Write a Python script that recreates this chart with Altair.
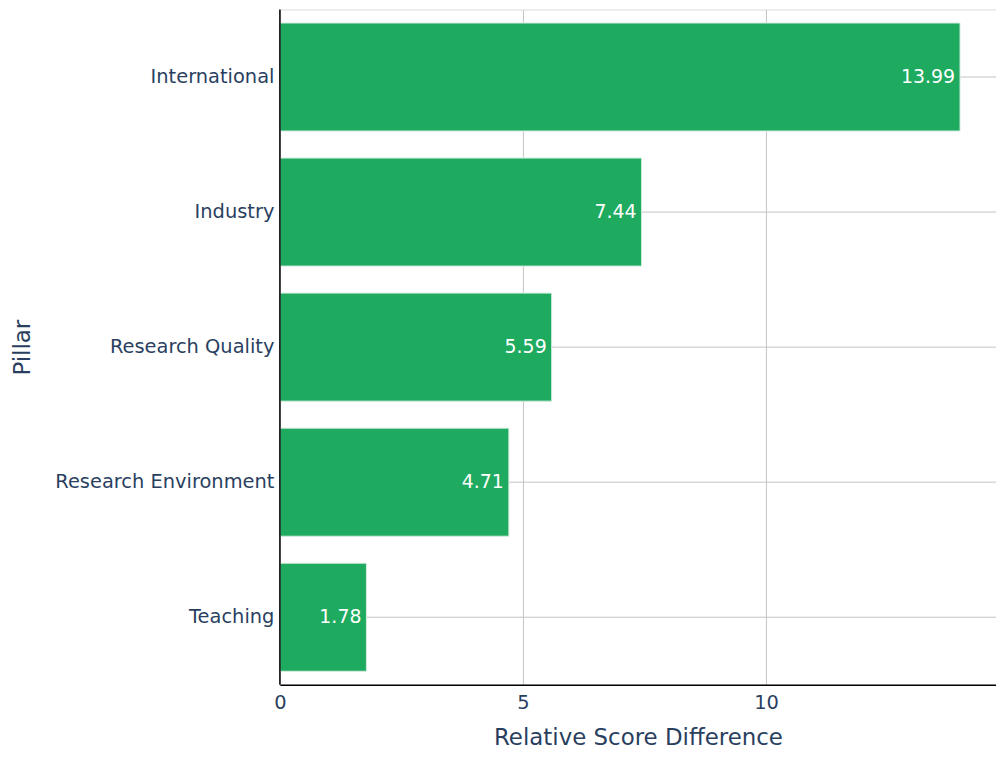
import altair as alt
import pandas as pd

pillars = ["International", "Industry", "Research Quality", "Research Environment", "Teaching"]
values = [13.99, 7.44, 5.59, 4.71, 1.78]
axis_origin = [0]

df = pd.DataFrame({"Pillar": pillars, "Relative Score Difference": values})
df_axis = pd.DataFrame({"origin": axis_origin})

FONT = "DejaVu Sans"
TXT = "#2a3f5f"
GREEN = "#1eab60"
GRID = "#c4c4c4"

x_enc = alt.X(
    "Relative Score Difference:Q",
    scale=alt.Scale(domain=[0, 14.73], nice=False, zero=True),
    axis=alt.Axis(
        title="Relative Score Difference",
        values=[0, 5, 10],
        format="d",
        grid=True,
        gridColor=GRID,
        gridWidth=1,
        domainColor="#000000",
        domainWidth=1.5,
        ticks=False,
        labelFlush=False,
        labelPadding=9,
        labelFontSize=19.5,
        labelColor=TXT,
        labelFont=FONT,
        titleFontSize=23,
        titleFont=FONT,
        titleColor=TXT,
        titleFontWeight="normal",
        titleY=53,
        titleBaseline="middle",
    ),
)

y_enc = alt.Y(
    "Pillar:N",
    sort=pillars,
    scale=alt.Scale(paddingInner=0.2, paddingOuter=0.1),
    axis=alt.Axis(
        title="Pillar",
        grid=False,
        domain=False,
        ticks=False,
        labelPadding=6,
        labelLimit=0,
        labelFontSize=19.5,
        labelColor=TXT,
        labelFont=FONT,
        titleFontSize=23,
        titleFont=FONT,
        titleColor=TXT,
        titleFontWeight="normal",
        titleAngle=-90,
        titleX=-258,
        titleY=339,
        titleAlign="center",
        titleBaseline="middle",
    ),
)

hgrid = alt.Chart(df).mark_rule(color=GRID, strokeWidth=1).encode(
    y=alt.Y("Pillar:N", sort=pillars)
)

bars = alt.Chart(df).mark_bar(color=GREEN, stroke="#d6ece0", strokeWidth=1).encode(
    x=x_enc, y=y_enc
)

labels = alt.Chart(df).mark_text(
    align="right", baseline="middle", dx=-5, color="white", fontSize=19, font=FONT
).encode(
    x=alt.X("Relative Score Difference:Q"),
    y=alt.Y("Pillar:N", sort=pillars),
    text=alt.Text("Relative Score Difference:Q", format=".2f"),
)

y_axis_line = alt.Chart(df_axis).mark_rule(color="#000000", strokeWidth=1.5).encode(
    x=alt.X("origin:Q")
)

chart = (
    alt.layer(hgrid, bars, labels, y_axis_line)
    .properties(
        width=719,
        height=678,
        autosize=alt.AutoSizeParams(type="none"),
        padding={"left": 273, "top": 0, "right": 0, "bottom": 65},
    )
    .configure_view(stroke="transparent", strokeWidth=0, fill="white")
    .configure(background="white")
)

chart.save("out.html", embed_options={"renderer": "svg", "actions": False})
